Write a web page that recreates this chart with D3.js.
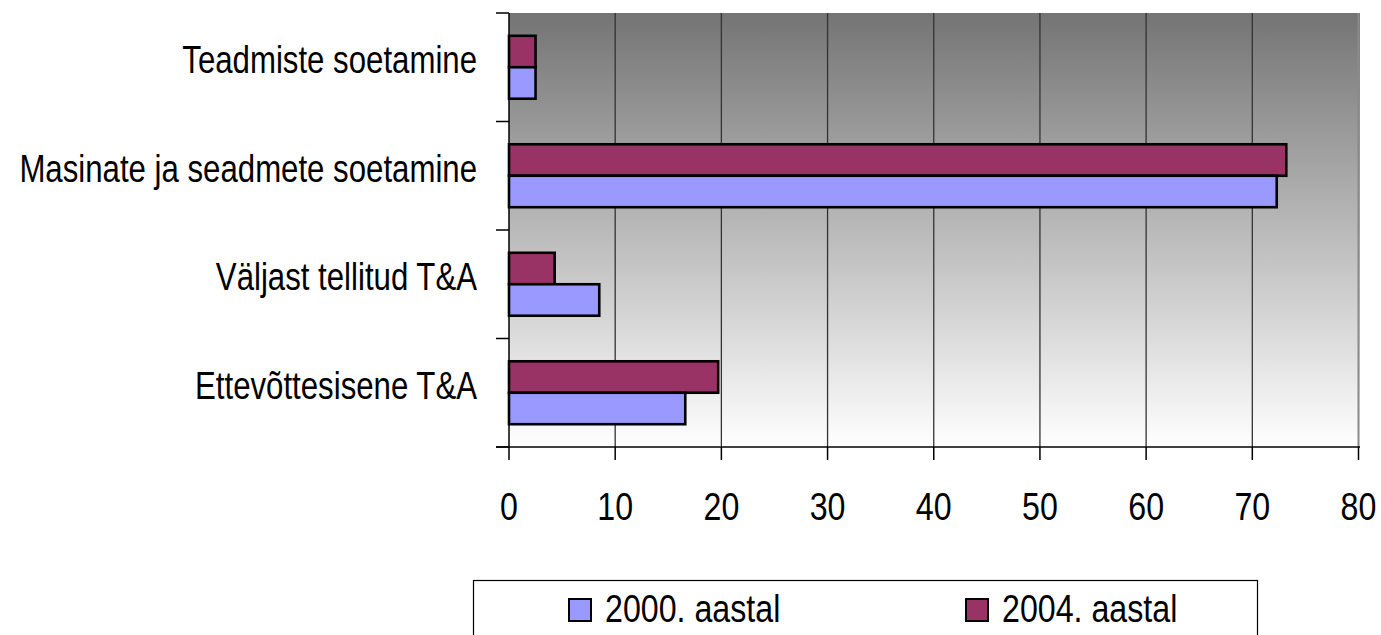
<!DOCTYPE html>
<html>
<head>
<meta charset="utf-8">
<script src="https://cdn.jsdelivr.net/npm/d3@7"></script>
<style>
html,body{margin:0;padding:0;background:#fff;}
svg{display:block;}
text{font-family:"Liberation Sans",Arial,sans-serif;fill:#000;}
</style>
</head>
<body>
<svg id="chart" width="1381" height="635"></svg>
<script>
const categories = ["Teadmiste soetamine","Masinate ja seadmete soetamine","Väljast tellitud T&A","Ettevõttesisene T&A"];
const seriesNames = ["2004. aastal","2000. aastal"];
const values2004 = [2.5, 73.2, 4.3, 19.7];
const values2000 = [2.5, 72.3, 8.5, 16.6];
const xTicks = [0,10,20,30,40,50,60,70,80];
const legendOrder = ["2000. aastal","2004. aastal"];
const colors = {"2000. aastal":"#9999FF","2004. aastal":"#993366"};

(function(){
const svg = d3.select("#chart");
const pL = 509, pR = 1358.5, pT = 13, pB = 447;
const FS = 39, SX = 0.825, SXC = 0.80;

const x = d3.scaleLinear().domain([0,80]).range([pL,pR]);
const y = d3.scaleBand().domain(categories).range([pT,pB]).paddingInner(0.42).paddingOuter(0.21);
const sub = d3.scaleBand().domain(seriesNames).range([0,y.bandwidth()]);

const defs = svg.append("defs");
const grad = defs.append("linearGradient").attr("id","bg").attr("x1",0).attr("y1",0).attr("x2",0).attr("y2",1);
grad.append("stop").attr("offset","0%").attr("stop-color","#747474");
grad.append("stop").attr("offset","100%").attr("stop-color","#ffffff");
svg.append("rect").attr("x",pL).attr("y",pT).attr("width",x(80)-pL+1.5).attr("height",pB-pT).attr("fill","url(#bg)");

svg.selectAll("line.grid").data(xTicks.filter(d=>d>0)).enter().append("line")
  .attr("x1",d=>x(d)).attr("x2",d=>x(d)).attr("y1",pT).attr("y2",pB)
  .attr("stroke",d=>d===80?"#8a8a8a":"#333").attr("stroke-width",d=>d===80?2:1.3);

const data = categories.map((c,i)=>({cat:c, vals:[{s:"2004. aastal",v:values2004[i]},{s:"2000. aastal",v:values2000[i]}]}));
const g = svg.selectAll("g.cat").data(data).enter().append("g").attr("transform",d=>`translate(0,${y(d.cat)})`);
g.selectAll("rect").data(d=>d.vals).enter().append("rect")
  .attr("x",x(0)).attr("y",d=>sub(d.s)).attr("width",d=>x(d.v)-x(0)).attr("height",sub.bandwidth())
  .attr("fill",d=>colors[d.s]).attr("stroke","#000").attr("stroke-width",2.6);

const boundaries = d3.range(categories.length+1).map(i=>pT + i*(pB-pT)/categories.length);
svg.append("line").attr("x1",pL).attr("x2",pL).attr("y1",pT).attr("y2",pB).attr("stroke","#000").attr("stroke-width",1.5);
svg.append("line").attr("x1",496).attr("x2",pR+1.5).attr("y1",pB).attr("y2",pB).attr("stroke","#000").attr("stroke-width",1.5);
svg.selectAll("line.ytick").data(boundaries).enter().append("line")
  .attr("x1",496).attr("x2",pL).attr("y1",d=>d).attr("y2",d=>d).attr("stroke","#000").attr("stroke-width",1.5);
svg.selectAll("line.xtick").data(xTicks).enter().append("line")
  .attr("x1",d=>x(d)).attr("x2",d=>x(d)).attr("y1",pB).attr("y2",pB+13).attr("stroke","#000").attr("stroke-width",1.5);

svg.selectAll("text.cat").data(categories).enter().append("text")
  .attr("transform",d=>`translate(477,${y(d)+y.bandwidth()/2+6}) scale(${SXC},1)`)
  .attr("text-anchor","end").attr("font-size",FS).text(d=>d);

svg.selectAll("text.xt").data(xTicks).enter().append("text")
  .attr("transform",d=>`translate(${x(d)},520) scale(${SX},1)`)
  .attr("text-anchor","middle").attr("font-size",FS).text(d=>d);

svg.append("rect").attr("x",473.5).attr("y",580.5).attr("width",784).attr("height",80).attr("fill","#fff").attr("stroke","#000").attr("stroke-width",1.2);
const lx = [568, 965];
const lg = svg.selectAll("g.leg").data(legendOrder).enter().append("g").attr("transform",(d,i)=>`translate(${lx[i]},598)`);
lg.append("rect").attr("x",1).attr("y",1).attr("width",22).attr("height",22).attr("fill",d=>colors[d]).attr("stroke","#000").attr("stroke-width",2);
lg.append("text").attr("transform",`translate(37,24) scale(${SX},1)`).attr("font-size",FS).text(d=>d);
})();
</script>
</body>
</html>
